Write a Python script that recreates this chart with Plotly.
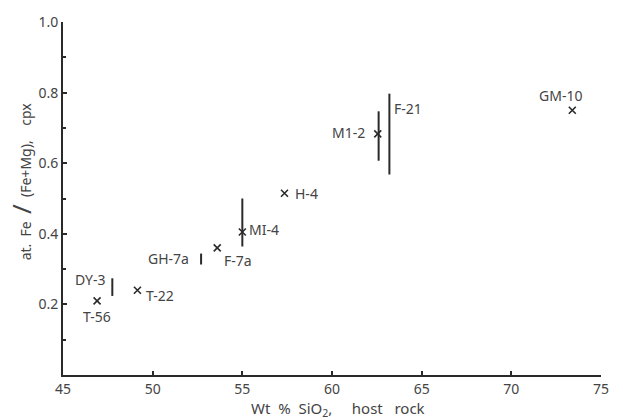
import plotly.graph_objects as go

# Data
point_labels = ["T-56", "T-22", "F-7a", "MI-4", "H-4", "M1-2", "GM-10"]
point_sio2 = [46.9, 49.15, 53.6, 55.0, 57.35, 62.55, 73.4]
point_fe = [0.21, 0.24, 0.36, 0.405, 0.515, 0.683, 0.75]

range_names = ["DY-3", "GH-7a", "MI-4", "M1-2", "F-21"]
range_sio2 = [47.75, 52.7, 55.0, 62.6, 63.2]
range_lo = [0.224, 0.313, 0.364, 0.607, 0.568]
range_hi = [0.274, 0.344, 0.50, 0.747, 0.797]

x_ticks = [45, 50, 55, 60, 65, 70, 75]
y_ticks = [0.2, 0.4, 0.6, 0.8, 1.0]
y_ticklabels = ["0.2", "0.4", "0.6", "0.8", "1.0"]

INK = "#2a2a2a"
TXT = "#444444"
FONT = "Noto Sans"
FS = 14
NB = "\u00a0"

fig = go.Figure()

# vertical range bars
bx, by = [], []
for xv, lo, hi in zip(range_sio2, range_lo, range_hi):
    bx += [xv, xv, None]
    by += [lo, hi, None]
fig.add_trace(go.Scatter(x=bx, y=by, mode="lines",
                         line=dict(color=INK, width=2), hoverinfo="skip",
                         showlegend=False))

# x points
fig.add_trace(go.Scatter(x=point_sio2, y=point_fe, mode="markers",
                         marker=dict(symbol="x-thin-open", size=7, color=INK,
                                     line=dict(color=INK, width=1.6)),
                         showlegend=False))

# label placement styles: (xanchor, xshift, yshift)
label_specs = {
    "T-56": ("center", 0, -16),
    "T-22": ("left", 7, -5),
    "F-7a": ("left", 5, -13),
    "MI-4": ("left", 5, 3),
    "H-4": ("left", 9, 0),
    "M1-2": ("right", -11, 1),
    "GM-10": ("center", -12, 15),
}
for name, xv, yv in zip(point_labels, point_sio2, point_fe):
    xa, xs, ys = label_specs[name]
    fig.add_annotation(x=xv, y=yv, text=name, showarrow=False,
                       xanchor=xa, yanchor="middle", xshift=xs, yshift=ys,
                       font=dict(family=FONT, size=FS, color=TXT))

range_label_specs = {
    "DY-3": ("right", -4, "hi", -1),
    "GH-7a": ("right", -10, "mid", 1),
    "F-21": ("left", 3, "mid", 26),
}
for name, xv, lo, hi in zip(range_names, range_sio2, range_lo, range_hi):
    if name not in range_label_specs:
        continue
    xa, xs, where, ys = range_label_specs[name]
    yv = hi if where == "hi" else (lo + hi) / 2
    fig.add_annotation(x=xv, y=yv, text=name, showarrow=False,
                       xanchor=xa, yanchor="middle", xshift=xs, yshift=ys,
                       font=dict(family=FONT, size=FS, color=TXT))

# axis titles
x_title = f"Wt{NB}{NB}%{NB}{NB}SiO<sub>2</sub>,{NB}{NB}{NB}{NB}{NB}host{NB}{NB}{NB}rock"
fig.add_annotation(xref="paper", yref="paper", x=0.5, y=-0.095,
                   text=x_title, showarrow=False,
                   xanchor="center", yanchor="middle", xshift=6,
                   font=dict(family=FONT, size=15, color=TXT))
y_title = (f"at.{NB}{NB}Fe{NB}{NB}<span style='font-size:26px'>/</span>"
           f"{NB}{NB}(Fe+Mg),{NB}{NB}{NB}{NB}cpx")
fig.add_annotation(xref="paper", yref="paper", x=-0.079, y=0.55,
                   text=y_title, textangle=-90, showarrow=False,
                   xanchor="center", yanchor="middle",
                   font=dict(family=FONT, size=14, color=TXT))

fig.update_xaxes(range=[45, 75], tickvals=x_ticks, ticktext=[str(v) for v in x_ticks],
                 showline=True, linecolor=INK, linewidth=2,
                 ticks="inside", ticklen=4, tickcolor=INK, tickwidth=1.5,
                 showgrid=False, zeroline=False,
                 tickfont=dict(family=FONT, size=FS, color=TXT))
fig.update_yaxes(range=[0, 1.0], tickvals=y_ticks, ticktext=y_ticklabels,
                 showline=True, linecolor=INK, linewidth=2,
                 ticks="inside", ticklen=4, tickcolor=INK, tickwidth=1.5,
                 minor=dict(dtick=0.1, ticks="inside", ticklen=3, tickcolor=INK, tickwidth=1.5),
                 showgrid=False, zeroline=False,
                 tickfont=dict(family=FONT, size=FS, color=TXT))

fig.update_layout(width=623, height=420,
                  margin=dict(l=63, r=22, t=20, b=45),
                  plot_bgcolor="white", paper_bgcolor="white")

fig.write_html("out.html", config={"displayModeBar": False})

# remove default page margin so the figure sits at the window origin
with open("out.html", encoding="utf-8") as f:
    html = f.read()
html = html.replace("<body>", "<body style=\"margin:0;padding:0;\">", 1)
with open("out.html", "w", encoding="utf-8") as f:
    f.write(html)
